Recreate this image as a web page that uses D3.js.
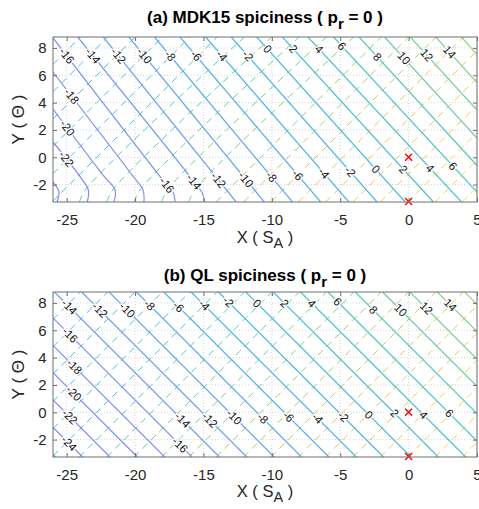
<!DOCTYPE html>
<html><head><meta charset="utf-8">
<script src="https://cdn.jsdelivr.net/npm/d3@7"></script>
<style>
body{margin:0;background:#fff;}
svg{display:block;font-family:"Liberation Sans",Arial,Helvetica,sans-serif;}
</style>
</head><body>
<svg id="chart" width="479" height="509"></svg>
<script>
// ---------- data ----------
const xTicks = [-25, -20, -15, -10, -5, 0, 5];
const yTicks = [-2, 0, 2, 4, 6, 8];
const xDomain = [-26, 5];
const yDomain = [-3.27, 8.8];
const markers = [[0, 0], [0, -3.23]];

// (a) MDK15 spiciness contours: level and polyline (X, Y)
const spiceLevelsA = [-24,-22,-20,-18,-16,-14,-12,-10,-8,-6,-4,-2,0,2,4,6,8,10,12,14,16];
const spiceLinesA = [
  [[-26,-1.81],[-25.56,-2.54],[-25.71,-3.27]],
  [[-26,1.12],[-24.02,-1.42],[-23.42,-2.39],[-23.49,-3.27]],
  [[-26,3.53],[-22.34,-1.30],[-21.46,-2.39],[-21.54,-3.27]],
  [[-26,6.24],[-20.21,-1.30],[-19.42,-2.39],[-19.35,-3.27]],
  [[-26,8.73],[-17.68,-2.03],[-17.2,-2.6],[-17.08,-3.27]],
  [[-24.19,8.8],[-15.6,-1.9],[-15.1,-2.6],[-14.9,-3.27]],
  [[-22.32,8.8],[-12.61,-3.27]],
  [[-20.45,8.8],[-10.55,-3.27]],
  [[-18.58,8.8],[-8.49,-3.27]],
  [[-16.71,8.8],[-6.43,-3.27]],
  [[-14.84,8.8],[-4.37,-3.27]],
  [[-12.97,8.8],[-2.31,-3.27]],
  [[-11.1,8.8],[-0.25,-3.27]],
  [[-9.23,8.8],[1.81,-3.27]],
  [[-7.36,8.8],[3.87,-3.27]],
  [[-5.49,8.8],[5,-2.55]],
  [[-3.62,8.8],[5,-0.6]],
  [[-1.75,8.8],[5,1.4]],
  [[0.12,8.8],[5,3.45]],
  [[1.99,8.8],[5,5.46]],
  [[3.86,8.8],[5,7.53]]
];
// contour labels (level, Y)
const labelsA = [
  [-16,7.43],[-14,7.43],[-12,7.43],[-10,7.43],[-8,7.43],[-6,7.43],[-4,7.43],[-2,7.43],
  [0,7.92],[2,7.92],[4,7.92],[6,8.14],[8,7.34],[10,7.26],[12,7.48],[14,7.70],
  [-18,4.48],[-20,2.14],[-22,-0.12],
  [-16,-2.03],[-14,-1.79],[-12,-1.66],[-10,-1.62],[-8,-1.42],[-6,-1.30],[-4,-1.17],
  [-2,-1.05],[0,-0.88],[2,-0.88],[4,-0.80],[6,-0.64]
];

// (b) QL spiciness contours
const spiceLevelsB = [-26,-24,-22,-20,-18,-16,-14,-12,-10,-8,-6,-4,-2,0,2,4,6,8,10,12,14,16];
const spiceLinesB = [
  [[-26,-3.1],[-25.83,-3.27]],
  [[-26,-1.1],[-23.83,-3.27]],
  [[-26,0.9],[-21.83,-3.27]],
  [[-26,2.9],[-19.83,-3.27]],
  [[-26,4.9],[-17.83,-3.27]],
  [[-26,6.9],[-15.83,-3.27]],
  [[-25.9,8.8],[-13.83,-3.27]],
  [[-23.9,8.8],[-11.83,-3.27]],
  [[-21.9,8.8],[-9.83,-3.27]],
  [[-19.9,8.8],[-7.83,-3.27]],
  [[-17.9,8.8],[-5.83,-3.27]],
  [[-15.9,8.8],[-3.83,-3.27]],
  [[-13.9,8.8],[-1.83,-3.27]],
  [[-11.9,8.8],[0.17,-3.27]],
  [[-9.9,8.8],[2.17,-3.27]],
  [[-7.9,8.8],[4.17,-3.27]],
  [[-5.9,8.8],[5,-2.1]],
  [[-3.9,8.8],[5,-0.1]],
  [[-1.9,8.8],[5,1.9]],
  [[0.1,8.8],[5,3.9]],
  [[2.1,8.8],[5,5.9]],
  [[4.1,8.8],[5,7.9]]
];
const labelsB = [
  [-14,7.72],[-12,7.48],[-10,7.48],[-8,7.85],[-6,7.72],[-4,7.85],[-2,8.09],[0,7.97],
  [2,7.97],[4,7.97],[6,8.09],[8,7.48],[10,7.48],[12,7.61],[14,7.85],
  [-16,5.65],[-18,3.34],[-20,1.39],[-22,-0.32],[-24,-2.27],
  [-16,-2.39],[-14,-0.56],[-12,-0.56],[-10,-0.34],[-8,-0.44],[-6,-0.32],[-4,-0.44],
  [-2,-0.32],[0,-0.20],[2,-0.07],[4,-0.20],[6,-0.07]
];

// density (dashed) contours, identified by X - Y value
const densityLevels = [-32.8,-30.8,-28.8,-26.8,-24.8,-22.8,-20.8,-18.8,-16.8,-14.8,-12.8,-10.8,-8.8,-6.8,-4.8,-2.8,-0.8,1.2,3.2,5.2,7.2];
const densityLinesA = [
  [[-26,6.8],[-24.0,8.8]],
  [[-26,4.8],[-22.0,8.8]],
  [[-26,2.8],[-20.0,8.8]],
  [[-26,0.8],[-18.0,8.8]],
  [[-26,-1.2],[-16.0,8.8]],
  [[-26,-3.2],[-14.0,8.8]],
  [[-24.07,-3.27],[-23.57,-2.3],[-12.0,8.8]],
  [[-22.07,-3.27],[-21.57,-2.3],[-10.0,8.8]],
  [[-20.07,-3.27],[-19.57,-2.3],[-8.0,8.8]],
  [[-18.07,-3.27],[-17.57,-2.3],[-6.0,8.8]],
  [[-16.07,-3.27],[-15.57,-2.3],[-4.0,8.8]],
  [[-14.07,-3.27],[-2.0,8.8]],
  [[-12.07,-3.27],[0.0,8.8]],
  [[-10.07,-3.27],[2.0,8.8]],
  [[-8.07,-3.27],[4.0,8.8]],
  [[-6.07,-3.27],[5,7.8]],
  [[-4.07,-3.27],[5,5.8]],
  [[-2.07,-3.27],[5,3.8]],
  [[-0.07,-3.27],[5,1.8]],
  [[1.93,-3.27],[5,-0.2]],
  [[3.93,-3.27],[5,-2.2]]
];
const densityLinesB = [
  [[-26,6.8],[-24.0,8.8]],
  [[-26,4.8],[-22.0,8.8]],
  [[-26,2.8],[-20.0,8.8]],
  [[-26,0.8],[-18.0,8.8]],
  [[-26,-1.2],[-16.0,8.8]],
  [[-26,-3.2],[-14.0,8.8]],
  [[-24.07,-3.27],[-12.0,8.8]],
  [[-22.07,-3.27],[-10.0,8.8]],
  [[-20.07,-3.27],[-8.0,8.8]],
  [[-18.07,-3.27],[-6.0,8.8]],
  [[-16.07,-3.27],[-4.0,8.8]],
  [[-14.07,-3.27],[-2.0,8.8]],
  [[-12.07,-3.27],[0.0,8.8]],
  [[-10.07,-3.27],[2.0,8.8]],
  [[-8.07,-3.27],[4.0,8.8]],
  [[-6.07,-3.27],[5,7.8]],
  [[-4.07,-3.27],[5,5.8]],
  [[-2.07,-3.27],[5,3.8]],
  [[-0.07,-3.27],[5,1.8]],
  [[1.93,-3.27],[5,-0.2]],
  [[3.93,-3.27],[5,-2.2]]
];

// colour ramps (parula-like, as they appear on the thin lines)
const spiceColorLevels = [-26, -18, -10, -2, 6, 16];
const spiceColorStops  = ["#8a7cee", "#8a8ef4", "#68a6f2", "#4cb8e8", "#4cc6c4", "#96d084"];
const densColorLevels  = [-32.8, -22.8, -12.8, -4.8, 1.2, 7.2];
const densColorStops   = ["#5cb6ee", "#44c8dc", "#82d07c", "#e0c458", "#f8c848", "#eede3c"];

// ---------- drawing ----------
const spiceColor = d3.scaleLinear().domain(spiceColorLevels).range(spiceColorStops).interpolate(d3.interpolateRgb);
const densColor = d3.scaleLinear().domain(densColorLevels).range(densColorStops).interpolate(d3.interpolateRgb);

const panels = [
  {title:["(a) MDK15 spiciness ( p","r"," = 0 )"], top:37, bottom:202, titleY:22.5, xlabY:243,
   levels:spiceLevelsA, lines:spiceLinesA, labels:labelsA, dashed:densityLinesA},
  {title:["(b) QL spiciness ( p","r"," = 0 )"], top:292, bottom:457, titleY:280.5, xlabY:496.5,
   levels:spiceLevelsB, lines:spiceLinesB, labels:labelsB, dashed:densityLinesB}
];

const svg = d3.select("#chart");
const L = 53, R = 477;
const x = d3.scaleLinear().domain(xDomain).range([L, R]);
const axisColor = "#6e6e6e", textColor = "#262626";
const defs = svg.append("defs");

panels.forEach((p, i) => {
  const y = d3.scaleLinear().domain(yDomain).range([p.bottom, p.top]);
  const clipId = "clip" + i;
  defs.append("clipPath").attr("id", clipId).append("rect")
    .attr("x", L).attr("y", p.top).attr("width", R - L).attr("height", p.bottom - p.top);

  const g = svg.append("g");
  // grid
  const grid = g.append("g").attr("stroke", "#d6d6d6").attr("stroke-width", 1).attr("stroke-dasharray", "1,2");
  grid.selectAll("line.gx").data(xTicks).join("line").attr("class","gx")
    .attr("x1", d => x(d)).attr("x2", d => x(d)).attr("y1", p.top).attr("y2", p.bottom);
  grid.selectAll("line.gy").data(yTicks).join("line").attr("class","gy")
    .attr("x1", L).attr("x2", R).attr("y1", d => y(d)).attr("y2", d => y(d));

  const plot = g.append("g").attr("clip-path", `url(#${clipId})`);
  const line = d3.line().x(d => x(d[0])).y(d => y(d[1])).curve(d3.curveCatmullRom.alpha(0.5));

  // dashed density contours
  plot.append("g").selectAll("path").data(p.dashed).join("path")
    .attr("d", d => line(d)).attr("fill", "none")
    .attr("stroke", (d, j) => densColor(densityLevels[j]))
    .attr("stroke-width", 1).attr("stroke-dasharray", "7,5");

  // solid spiciness contours
  plot.append("g").selectAll("path").data(p.lines).join("path")
    .attr("d", d => line(d)).attr("fill", "none")
    .attr("stroke", (d, j) => spiceColor(p.levels[j]))
    .attr("stroke-width", 1.2);

  // contour labels, positioned on their contour line
  function labelPos(pts, yv) {
    for (let k = 0; k < pts.length - 1; k++) {
      const a = pts[k], b = pts[k + 1];
      if ((yv - a[1]) * (yv - b[1]) <= 0) {
        const t = (yv - a[1]) / (b[1] - a[1]);
        const xv = a[0] + t * (b[0] - a[0]);
        let ang = Math.atan2(y(b[1]) - y(a[1]), x(b[0]) - x(a[0])) * 180 / Math.PI;
        if (ang > 90) ang -= 180; if (ang < -90) ang += 180;
        return [x(xv), y(yv), ang];
      }
    }
    return null;
  }
  const labData = p.labels.map(([lev, yv]) => {
    const pts = p.lines[p.levels.indexOf(lev)];
    const pos = labelPos(pts, yv);
    return pos ? {lev, pos} : null;
  }).filter(Boolean);
  plot.append("g").selectAll("text").data(labData).join("text")
    .attr("transform", d => `translate(${d.pos[0]},${d.pos[1]}) rotate(${d.pos[2]})`)
    .attr("text-anchor", "middle").attr("dominant-baseline", "central")
    .attr("font-size", 11.5).attr("fill", "#111")
    .attr("paint-order", "stroke").attr("stroke", "#fff").attr("stroke-width", 2.5)
    .text(d => String(d.lev));

  // red markers
  g.append("g").selectAll("path").data(markers).join("path")
    .attr("transform", d => `translate(${x(d[0])},${y(d[1])})`)
    .attr("d", "M-3.5,-3.5L3.5,3.5M-3.5,3.5L3.5,-3.5")
    .attr("stroke", "#ff0000").attr("stroke-width", 1.4).attr("fill", "none");

  // axes
  const fmt = d => String(d);
  const styleAxis = sel => {
    sel.select(".domain").remove();
    sel.selectAll(".tick line").attr("stroke", axisColor);
    sel.selectAll(".tick text").attr("fill", textColor);
    sel.attr("font-family", null).attr("font-size", 15);
  };
  g.append("g").attr("transform", `translate(0,${p.bottom})`)
    .call(d3.axisBottom(x).tickValues(xTicks).tickSize(-4).tickPadding(12.2).tickFormat(fmt)).call(styleAxis);
  g.append("g").attr("transform", `translate(0,${p.top})`)
    .call(d3.axisTop(x).tickValues(xTicks).tickSize(-4).tickFormat("")).call(styleAxis);
  g.append("g").attr("transform", `translate(${L},0)`)
    .call(d3.axisLeft(y).tickValues(yTicks).tickSize(-4).tickPadding(6.5).tickFormat(fmt)).call(styleAxis);
  g.append("g").attr("transform", `translate(${R},0)`)
    .call(d3.axisRight(y).tickValues(yTicks).tickSize(-4).tickFormat("")).call(styleAxis);

  g.append("rect").attr("x", L).attr("y", p.top).attr("width", R - L).attr("height", p.bottom - p.top)
    .attr("fill", "none").attr("stroke", axisColor).attr("stroke-width", 1);

  // title
  const cx = (L + R) / 2;
  const t = g.append("text").attr("x", cx).attr("y", p.titleY).attr("text-anchor", "middle")
    .attr("font-size", 17).attr("font-weight", "bold").attr("fill", "#000");
  t.append("tspan").text(p.title[0]);
  t.append("tspan").attr("dy", 6).attr("font-size", 15).text(p.title[1]);
  t.append("tspan").attr("dy", -6).text(p.title[2]);

  // x label
  const xl = g.append("text").attr("x", cx).attr("y", p.xlabY).attr("text-anchor", "middle")
    .attr("font-size", 16.5).attr("fill", textColor);
  xl.append("tspan").text("X ( S");
  xl.append("tspan").attr("dy", 5).attr("font-size", 14.5).text("A");
  xl.append("tspan").attr("dy", -5).text(" )");

  // y label
  g.append("text").attr("transform", `translate(24,${(p.top + p.bottom) / 2}) rotate(-90)`)
    .attr("text-anchor", "middle").attr("font-size", 17).attr("fill", textColor)
    .text("Y ( \u0398 )");
});
</script>
</body></html>
